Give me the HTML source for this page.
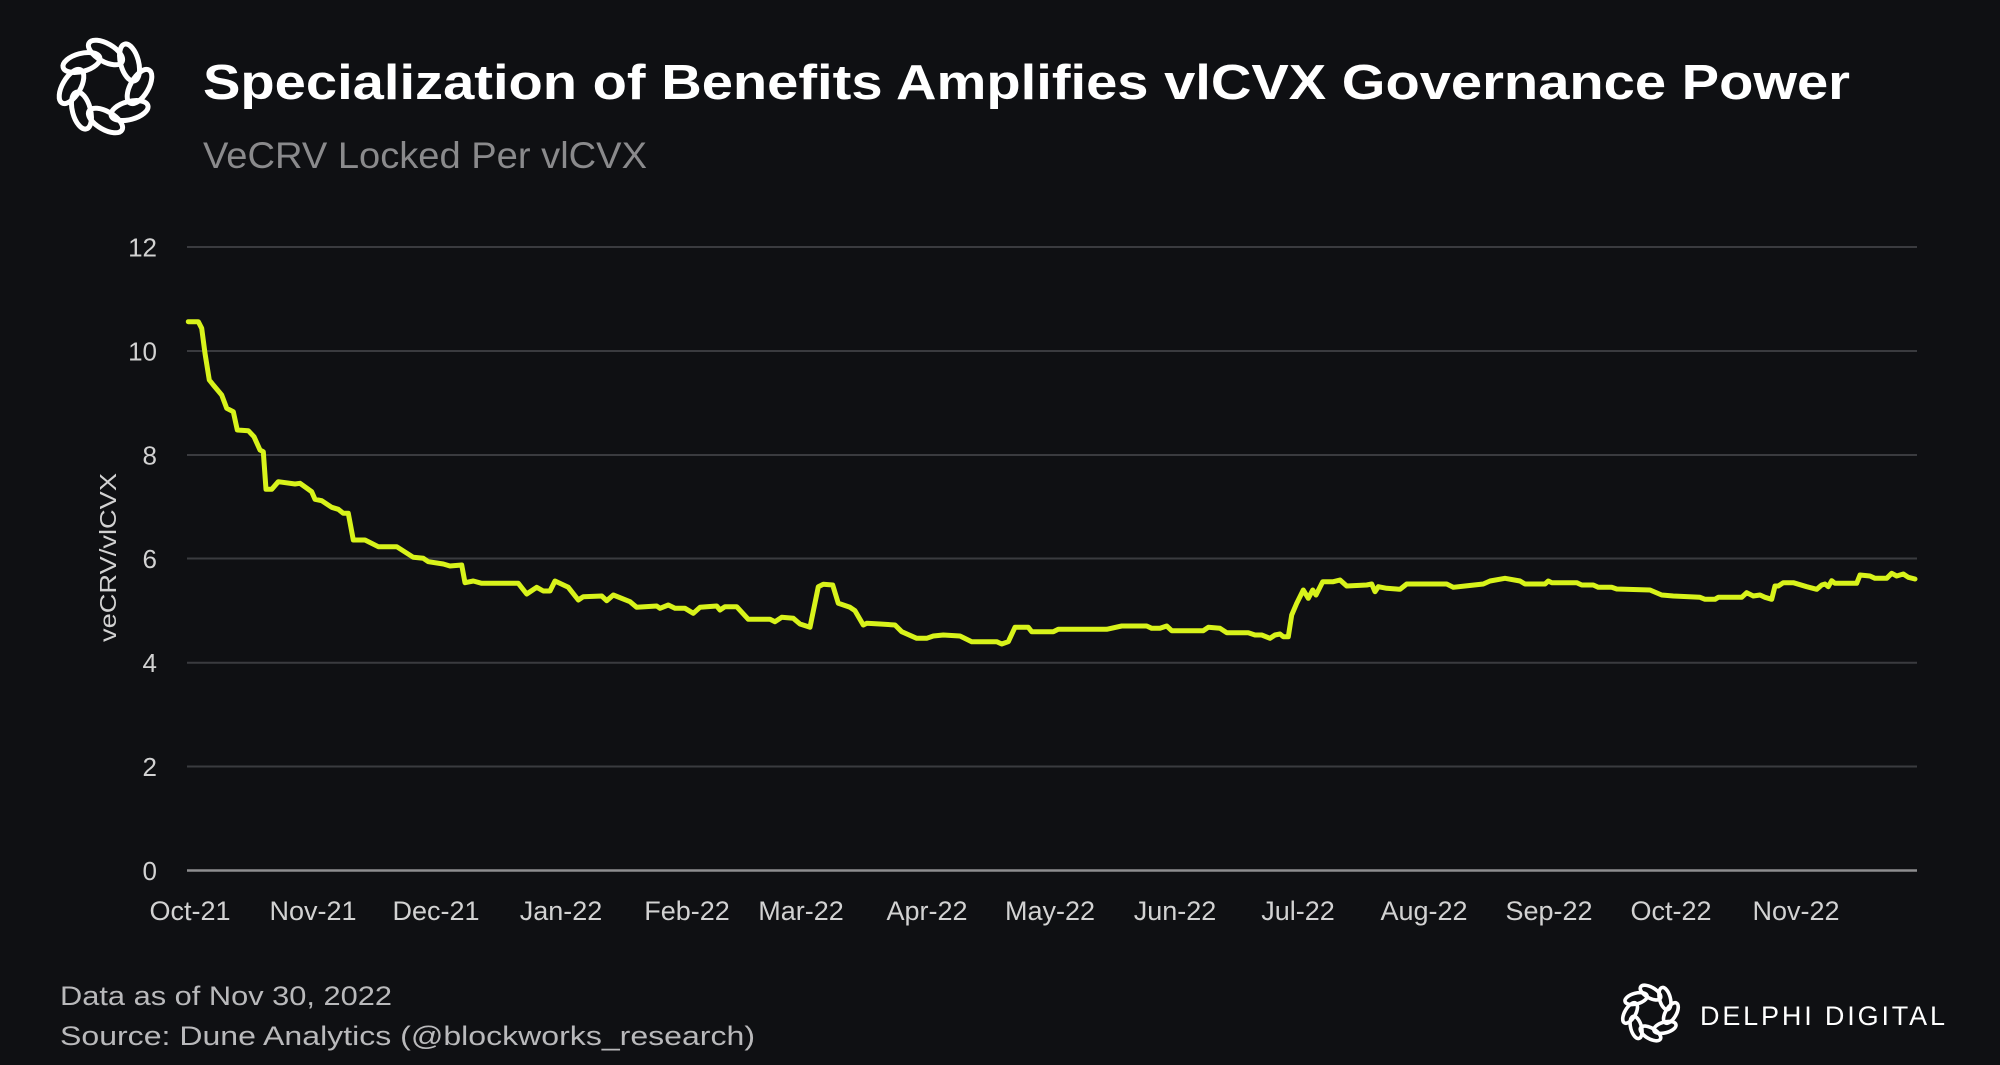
<!DOCTYPE html>
<html>
<head>
<meta charset="utf-8">
<style>
html,body{margin:0;padding:0;background:#0f1013;}
svg{display:block;}
</style>
</head>
<body>
<svg width="2000" height="1065" viewBox="0 0 2000 1065" xmlns="http://www.w3.org/2000/svg">
<rect width="2000" height="1065" fill="#0f1013"/>

<!-- Top-left logo -->
<g transform="translate(105.5,86.5)" fill="none" stroke="#ffffff" stroke-width="5">
  <g transform="rotate(0)"><ellipse cx="0" cy="-34" rx="19" ry="9" transform="rotate(30 0 -34)"/></g>
  <g transform="rotate(45)"><ellipse cx="0" cy="-34" rx="19" ry="9" transform="rotate(30 0 -34)"/></g>
  <g transform="rotate(90)"><ellipse cx="0" cy="-34" rx="19" ry="9" transform="rotate(30 0 -34)"/></g>
  <g transform="rotate(135)"><ellipse cx="0" cy="-34" rx="19" ry="9" transform="rotate(30 0 -34)"/></g>
  <g transform="rotate(180)"><ellipse cx="0" cy="-34" rx="19" ry="9" transform="rotate(30 0 -34)"/></g>
  <g transform="rotate(225)"><ellipse cx="0" cy="-34" rx="19" ry="9" transform="rotate(30 0 -34)"/></g>
  <g transform="rotate(270)"><ellipse cx="0" cy="-34" rx="19" ry="9" transform="rotate(30 0 -34)"/></g>
  <g transform="rotate(315)"><ellipse cx="0" cy="-34" rx="19" ry="9" transform="rotate(30 0 -34)"/></g>
</g>

<!-- Title -->
<text x="203" y="99" font-family="'Liberation Sans', sans-serif" font-weight="bold" font-size="49" fill="#ffffff" textLength="1647" lengthAdjust="spacingAndGlyphs">Specialization of Benefits Amplifies vlCVX Governance Power</text>
<text x="203" y="168" font-family="'Liberation Sans', sans-serif" font-size="37" fill="#8a8a8c" textLength="444" lengthAdjust="spacingAndGlyphs">VeCRV Locked Per vlCVX</text>

<!-- Gridlines -->
<g stroke="#3a3b3f" stroke-width="2">
  <line x1="187" y1="247" x2="1917" y2="247"/>
  <line x1="187" y1="351" x2="1917" y2="351"/>
  <line x1="187" y1="455" x2="1917" y2="455"/>
  <line x1="187" y1="558.5" x2="1917" y2="558.5"/>
  <line x1="187" y1="662.7" x2="1917" y2="662.7"/>
  <line x1="187" y1="766.5" x2="1917" y2="766.5"/>
</g>
<line x1="187" y1="870.5" x2="1917" y2="870.5" stroke="#8e8e90" stroke-width="2.5"/>

<!-- Y tick labels -->
<g font-family="'Liberation Sans', sans-serif" font-size="26" fill="#d2d2d2" text-anchor="end">
  <text x="157" y="256.5">12</text>
  <text x="157" y="360.5">10</text>
  <text x="157" y="464.5">8</text>
  <text x="157" y="568">6</text>
  <text x="157" y="672">4</text>
  <text x="157" y="776">2</text>
  <text x="157" y="880">0</text>
</g>

<!-- Y axis title -->
<text transform="translate(116,557.5) rotate(-90)" font-family="'Liberation Sans', sans-serif" font-size="23" fill="#d2d2d2" text-anchor="middle" textLength="169" lengthAdjust="spacingAndGlyphs">veCRV/vlCVX</text>

<!-- X tick labels -->
<g font-family="'Liberation Sans', sans-serif" font-size="27" fill="#d2d2d2" text-anchor="middle">
  <text x="190" y="920">Oct-21</text>
  <text x="313" y="920">Nov-21</text>
  <text x="436" y="920">Dec-21</text>
  <text x="561" y="920">Jan-22</text>
  <text x="687" y="920">Feb-22</text>
  <text x="801" y="920">Mar-22</text>
  <text x="927" y="920">Apr-22</text>
  <text x="1050" y="920">May-22</text>
  <text x="1175" y="920">Jun-22</text>
  <text x="1298" y="920">Jul-22</text>
  <text x="1424" y="920">Aug-22</text>
  <text x="1549" y="920">Sep-22</text>
  <text x="1671" y="920">Oct-22</text>
  <text x="1796" y="920">Nov-22</text>
</g>

<!-- Series -->
<polyline fill="none" stroke="#d8f31b" stroke-width="5" stroke-linejoin="round" stroke-linecap="round" points="
188.3,321.7 198.3,321.7 201.7,328.3 205,353.3 209.3,380 213.3,385 221.7,395 226.7,408.3 233.3,411.7 237.3,430 248.3,430.7 254,436.7 260,450 263.3,451.7 266,489.3 271.7,489.3 278.3,481.7 295,484 300,483.3 311.7,491.7 315,499.3 321.7,500.7 331.7,507.3 338.3,509.3 343.3,513.3 348.3,513.3 353.3,540 365,540 378.3,546.7 396.7,546.7 413.3,557.3 423.3,558.3 428.3,561.7 443.3,564 450,566 461.7,565 465,582.7 473.3,581 481.7,583.3 518.3,583.3 526.7,594 536.7,587.3 543.3,591 550,591 555,581 568.3,587.3 578.3,600 583.3,596.7 601.7,596 606.7,600.7 613.3,595 630,601.7 636.7,607.3 656.7,606 660,608.3 668.3,605
675,608.3 685,608.3 693.3,613.3 700,607.3 716.7,606 720,610 725,606.7 736.7,606.7 748.3,619.3 770,619.3 775,621.7 781.7,617.3 793.3,618.3 800,624 810,627.3 818.3,586.7 823.3,584.3 832.7,585 838.3,603.3 850,607.3 855,610.7 863.3,625 866.7,623.3 880,624 895,625 901.7,631.7 916.7,638.3 926.7,638.3 933.3,636 943.3,635 960,636 971.7,641.7 996.7,641.7 1001.7,644 1008.3,641.7 1015,627.3 1028.3,627.3 1031.7,631.7 1053.3,631.7 1058.3,629.3 1106.7,629.3 1121.7,626 1146.7,626 1151.7,628.3 1160,628.3
1166.7,626 1171.7,630.7 1203.3,630.7 1208.3,627.3 1220,628.3 1226.7,632.7 1248.3,632.7 1255,635 1261.7,635 1270,638.3 1275,635 1280,634 1283.3,636.7 1288.3,636.7 1291.7,615 1296.7,603.3 1303.3,590 1308.3,598.3 1312.7,590 1316,595 1322.7,581.7 1333.3,581.7 1340,580 1346.7,586 1366.7,585 1371.7,584 1375,591.7 1378.3,586.7 1386.7,588.3 1400,589.3 1406.7,584 1446.7,584 1453.3,587.3 1465,586 1483.3,584 1490,581 1505,578.3
1520,581 1525,584 1545,584 1548.3,581 1551.7,582.7 1576.7,582.7 1581.7,585 1593.3,585 1598.3,587.3 1611.7,587.3 1616.7,589 1650,590 1661.7,595 1673.3,596 1700,597.3 1705,599.3 1715,599.3 1718.3,597.3 1741.7,597.3 1746.7,592.7 1753.3,596 1760,595 1765,597.3 1771.7,599.3 1775,586 1778.3,586 1783.3,582.7 1793.3,582.7 1806.7,586.7 1816.7,589.3 1821.7,585 1825,584 1828.3,586.7 1831.7,580.7 1835,583.3 1856.7,583.3 1860,575 1870,576 1875,578.3 1886.7,578.3 1891.7,573.3 1896.7,576 1903.3,574 1908.3,577.3 1915,579"/>

<!-- Footer -->
<g font-family="'Liberation Sans', sans-serif" font-size="27" fill="#b9b9bb">
  <text x="60" y="1005" textLength="332" lengthAdjust="spacingAndGlyphs">Data as of Nov 30, 2022</text>
  <text x="60" y="1045" textLength="695" lengthAdjust="spacingAndGlyphs">Source: Dune Analytics  (@blockworks_research)</text>
</g>

<!-- Bottom-right Delphi logo -->
<g transform="translate(1650.5,1013) scale(0.6)" fill="none" stroke="#ffffff" stroke-width="6">
  <g transform="rotate(0)"><ellipse cx="0" cy="-34" rx="19" ry="9" transform="rotate(30 0 -34)"/></g>
  <g transform="rotate(45)"><ellipse cx="0" cy="-34" rx="19" ry="9" transform="rotate(30 0 -34)"/></g>
  <g transform="rotate(90)"><ellipse cx="0" cy="-34" rx="19" ry="9" transform="rotate(30 0 -34)"/></g>
  <g transform="rotate(135)"><ellipse cx="0" cy="-34" rx="19" ry="9" transform="rotate(30 0 -34)"/></g>
  <g transform="rotate(180)"><ellipse cx="0" cy="-34" rx="19" ry="9" transform="rotate(30 0 -34)"/></g>
  <g transform="rotate(225)"><ellipse cx="0" cy="-34" rx="19" ry="9" transform="rotate(30 0 -34)"/></g>
  <g transform="rotate(270)"><ellipse cx="0" cy="-34" rx="19" ry="9" transform="rotate(30 0 -34)"/></g>
  <g transform="rotate(315)"><ellipse cx="0" cy="-34" rx="19" ry="9" transform="rotate(30 0 -34)"/></g>
</g>
<text x="1700" y="1025" font-family="'Liberation Sans', sans-serif" font-size="27" fill="#ffffff" textLength="245" lengthAdjust="spacing">DELPHI DIGITAL</text>
</svg>
</body>
</html>
